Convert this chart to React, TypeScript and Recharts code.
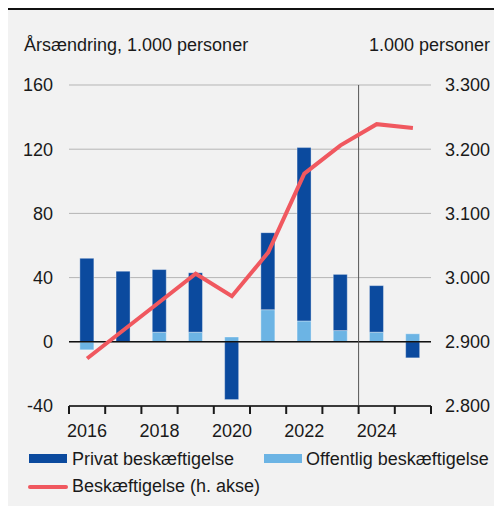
import React from "react";
import {
  ComposedChart,
  Bar,
  Line,
  XAxis,
  YAxis,
  CartesianGrid,
  ReferenceLine,
} from "recharts";

// Years on the x axis
const years = ["2016", "2017", "2018", "2019", "2020", "2021", "2022", "2023", "2024", "2025"];
// Annual change, 1.000 persons
const privat = [52, 44, 39, 37, -36, 48, 108, 35, 29, -10];
const offentlig = [-5, 0, 6, 6, 3, 20, 13, 7, 6, 5];
// Employment level, 1.000 persons (right axis)
const beskaeftigelse = [2874, 2918, 2962, 3006, 2971, 3039, 3162, 3206, 3239, 3233];

const leftTicks = [-40, 0, 40, 80, 120, 160];
const rightTicks = [2800, 2900, 3000, 3100, 3200, 3300];
const labelYears = ["2016", "2018", "2020", "2022", "2024"];

const DARK = "#0b4a9e";
const LIGHT = "#6cb4e4";
const RED = "#f0585f";
const FONT = "'Liberation Sans', Arial, sans-serif";
const TEXT = "#1a1a1a";
const FS = 18;

const data = years.map((year, i) => ({
  year,
  privat: privat[i],
  offentlig: offentlig[i],
  total: beskaeftigelse[i],
}));

// tick line at each category boundary, label only on even years
const YearTick = (props: any) => {
  const { x, y, payload, index } = props;
  const half = payload && payload.offset > 0 ? payload.offset : 18.1;
  return (
    <g>
      <line x1={x - half} x2={x - half} y1={y} y2={y + 8} stroke="#1a1a1a" strokeWidth={2} />
      {index === years.length - 1 && (
        <line x1={x + half} x2={x + half} y1={y} y2={y + 8} stroke="#1a1a1a" strokeWidth={2} />
      )}
      {labelYears.includes(payload.value) && (
        <text
          x={x}
          y={y + 25}
          textAnchor="middle"
          dominantBaseline="central"
          fontSize={FS}
          fontFamily={FONT}
          fill={TEXT}
        >
          {payload.value}
        </text>
      )}
    </g>
  );
};

const fmtRight = (v: number) => (v / 1000).toFixed(3);

const abs = (extra: React.CSSProperties): React.CSSProperties => ({
  position: "absolute",
  fontSize: FS,
  lineHeight: "20px",
  color: TEXT,
  whiteSpace: "nowrap",
  ...extra,
});

export default function App() {
  return (
    <div
      style={{
        position: "relative",
        width: 494,
        height: 498,
        background: "#f2f2f2",
        fontFamily: FONT,
      }}
    >
      <div style={{ position: "absolute", left: 0, top: 0, width: 494, height: 2, background: "#111" }} />
      <div style={abs({ left: 16, top: 27 })}>Årsændring, 1.000 personer</div>
      <div style={abs({ right: 12, top: 27 })}>1.000 personer</div>

      <div style={{ position: "absolute", left: 0, top: 0 }}>
        <ComposedChart
          width={494}
          height={440}
          data={data}
          stackOffset="sign"
          barCategoryGap="30%"
          margin={{ top: 77, right: 0, left: 0, bottom: 12 }}
        >
          <CartesianGrid yAxisId="left" vertical={false} stroke="#b5b5b5" />
          <XAxis
            dataKey="year"
            interval={0}
            height={30}
            tickLine={false}
            tickSize={0}
            tickMargin={0}
            axisLine={{ stroke: "#3a3a3a", strokeWidth: 2 }}
            tick={<YearTick />}
          />
          <YAxis
            yAxisId="left"
            orientation="left"
            width={61}
            domain={[-40, 160]}
            ticks={leftTicks}
            axisLine={false}
            tickLine={false}
            tickSize={0}
            tickMargin={16}
            tick={{ fontSize: FS, fontFamily: FONT, fill: TEXT }}
          />
          <YAxis
            yAxisId="right"
            orientation="right"
            width={71}
            domain={[2800, 3300]}
            ticks={rightTicks}
            axisLine={false}
            tickLine={false}
            tickSize={0}
            tickMargin={14}
            tickFormatter={fmtRight}
            tick={{ fontSize: FS, fontFamily: FONT, fill: TEXT, textAnchor: "start" }}
          />
          <Bar
            yAxisId="left"
            dataKey="offentlig"
            stackId="a"
            fill={LIGHT}
            stroke="#ffffff"
            strokeOpacity={0.35}
            isAnimationActive={false}
          />
          <Bar
            yAxisId="left"
            dataKey="privat"
            stackId="a"
            fill={DARK}
            stroke="#ffffff"
            strokeOpacity={0.35}
            isAnimationActive={false}
          />
          <ReferenceLine yAxisId="left" y={0} stroke="#111" strokeWidth={1.5} />
          <ReferenceLine yAxisId="left" x="2024" position="start" stroke="#555" strokeWidth={1} />
          <Line
            yAxisId="right"
            type="linear"
            dataKey="total"
            stroke={RED}
            strokeWidth={4}
            dot={false}
            activeDot={false}
            isAnimationActive={false}
          />
        </ComposedChart>
      </div>

      {/* legend */}
      <div style={{ position: "absolute", left: 21, top: 446, width: 38, height: 9, background: DARK }} />
      <div style={abs({ left: 64, top: 441 })}>Privat beskæftigelse</div>
      <div style={{ position: "absolute", left: 256, top: 446, width: 38, height: 9, background: LIGHT }} />
      <div style={abs({ left: 298, top: 441 })}>Offentlig beskæftigelse</div>
      <div
        style={{ position: "absolute", left: 20, top: 477, width: 40, height: 4, borderRadius: 2, background: RED }}
      />
      <div style={abs({ left: 64, top: 468 })}>Beskæftigelse (h. akse)</div>
    </div>
  );
}
